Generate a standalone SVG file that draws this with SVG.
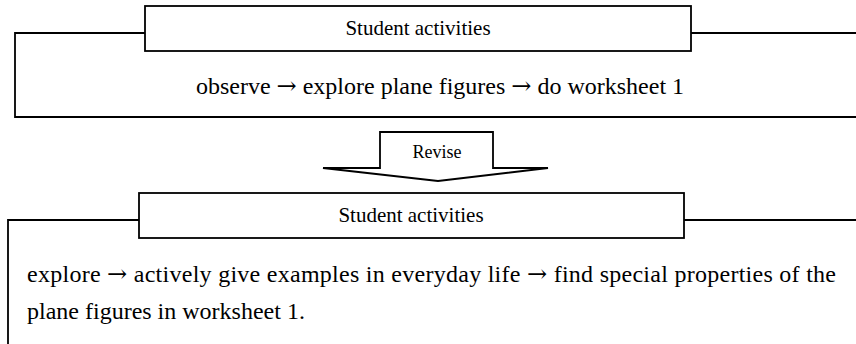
<svg xmlns="http://www.w3.org/2000/svg" width="856" height="344" viewBox="0 0 856 344">
<style>
.ln{fill:none;stroke:#000;stroke-width:1.8}
.bx{fill:#fff;stroke:#000;stroke-width:1.8}
.t{font-family:"Liberation Serif","Times New Roman",serif;fill:#000}
.ar{font-family:"DejaVu Serif",serif}
</style>
<rect width="856" height="344" fill="#fff"/>
<g id="connectors">
<path class="ln" d="M145,33 H15 V117 H856"/>
<path class="ln" d="M691,33 H856"/>
<path class="ln" d="M139,220 H8 V344"/>
<path class="ln" d="M684,220 H856"/>
</g>
<g id="top-title">
<rect class="bx" x="145" y="6" width="546" height="45"/>
<text class="t" x="418" y="35" font-size="21" text-anchor="middle">Student activities</text>
</g>
<g id="top-body">
<text class="t" x="440" y="94" font-size="24" text-anchor="middle">observe <tspan class="ar">→</tspan> explore plane figures <tspan class="ar">→</tspan> do worksheet 1</text>
</g>
<g id="revise">
<polygon class="bx" points="380,132 493,132 493,168 548,168 438,181 323,168 380,168"/>
<text class="t" x="437" y="158" font-size="18" text-anchor="middle">Revise</text>
</g>
<g id="bottom-title">
<rect class="bx" x="139" y="193" width="545" height="45"/>
<text class="t" x="411" y="222" font-size="21" text-anchor="middle">Student activities</text>
</g>
<g id="bottom-body">
<text class="t" x="27" y="282" font-size="24" textLength="809" lengthAdjust="spacing">explore <tspan class="ar">→</tspan> actively give examples in everyday life <tspan class="ar">→</tspan> find special properties of the</text>
<text class="t" x="27" y="319" font-size="24">plane figures in worksheet 1.</text>
</g>
</svg>
